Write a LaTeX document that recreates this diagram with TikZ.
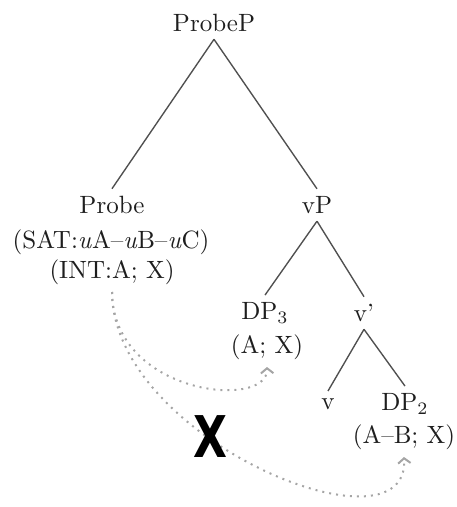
\documentclass[tikz,border=0pt]{standalone}
\usepackage{graphicx,xcolor,tikz,fontspec}
\usetikzlibrary{arrows.meta,positioning}
\newfontfamily\marksans{DejaVu Sans}
\definecolor{ink}{RGB}{30,30,30}
\definecolor{branch}{RGB}{80,80,80}
\definecolor{trace}{RGB}{165,165,165}

\begin{document}
\begin{tikzpicture}[x=0.4pt,y=-0.4pt,
 lab/.style={inner sep=2pt,outer sep=1pt,text=ink,font=\fontsize{10}{12}\selectfont},
 branchline/.style={draw=branch,line width=0.55pt},
 agree/.style={draw=trace,dotted,line width=0.8pt,-{Straight Barb[length=2pt,width=5pt]}}]
\useasboundingbox (0,0) rectangle (456,507);
% tree
\node[lab] (probep) at (214,23) {ProbeP};
\node[lab] (probe) at (112,205) {Probe};
\node[lab] (sat) at (111,242) {(SAT:\textit{u}A--\textit{u}B--\textit{u}C)};
\node[lab] (int) at (112,272) {(INT:A; X)};
\node[lab] (vp) at (317,205) {vP};
\node[lab] (dp3) at (265,313) {DP$_3$};
\node[lab] (ax) at (267,347) {(A; X)};
\node[lab] (vbar) at (364,313) {v'};
\node[lab] (v) at (328,404) {v};
\node[lab] (dp2) at (405,404) {DP$_2$};
\node[lab] (abx) at (404,437) {(A--B; X)};
\draw[branchline] (probep.south)--(probe.north);
\draw[branchline] (probep.south)--(vp.north);
\draw[branchline] (vp.south)--(dp3.north);
\draw[branchline] (vp.south)--(vbar.north);
\draw[branchline] (vbar.south)--(v.north);
\draw[branchline] (vbar.south)--(dp2.north);
% agree paths
\draw[agree] (int.south) .. controls (113,395) and (268,410) .. (ax.south);
\draw[agree] (int.south) .. controls (113,440) and (410,560) .. (abx.south);
\node[inner sep=0pt,font=\marksans\bfseries\fontsize{20}{20}\selectfont] (block) at (210,437) {\scalebox{0.88}[1.15]{X}};
\end{tikzpicture}
\end{document}
